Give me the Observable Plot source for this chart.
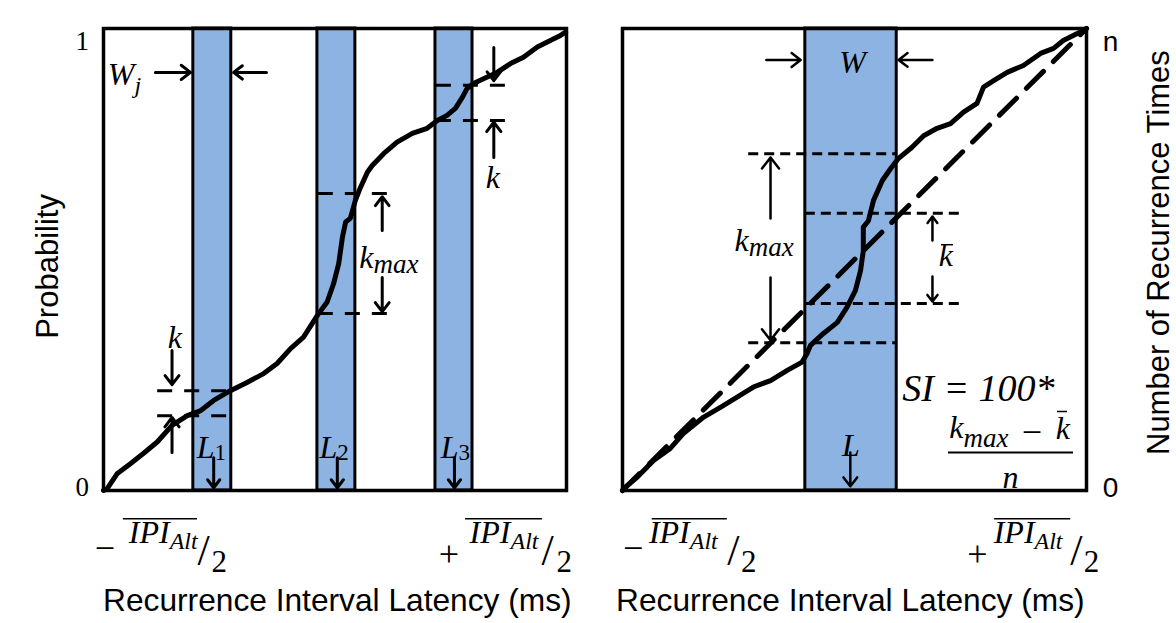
<!DOCTYPE html>
<html><head><meta charset="utf-8">
<script src="https://cdn.jsdelivr.net/npm/d3@7"></script>
<script src="https://cdn.jsdelivr.net/npm/@observablehq/plot@0.6"></script>
<style>
body{margin:0;background:#fff;}
#wrap{display:flex;width:1176px;height:623px;overflow:hidden;background:#fff;}
#wrap svg{display:block;}
</style></head><body><div id="wrap"></div>
<script>
// ---------- DATA ----------
// Latency in units of mean IPI_Alt (−1/2 … +1/2); left: cumulative probability, right: fraction of n
const leftLatency = [-0.5,-0.492,-0.470,-0.442,-0.414,-0.384,-0.352,-0.319,-0.290,-0.262,-0.226,-0.190,-0.154,-0.125,-0.096,-0.068,-0.038,-0.017,-0.003,0.008,0.016,0.023,0.033,0.044,0.055,0.070,0.080,0.105,0.134,0.167,0.199,0.221,0.242,0.260,0.275,0.285,0.299,0.329,0.350,0.379,0.407,0.437,0.465,0.487,0.498];
const leftProbability = [0,0.004,0.037,0.058,0.080,0.105,0.141,0.162,0.173,0.195,0.216,0.234,0.253,0.275,0.307,0.332,0.379,0.408,0.448,0.491,0.548,0.581,0.589,0.628,0.656,0.689,0.703,0.729,0.754,0.773,0.784,0.801,0.812,0.827,0.851,0.870,0.881,0.895,0.905,0.924,0.938,0.960,0.974,0.985,0.992];
const rightLatency = [-0.5,-0.494,-0.468,-0.433,-0.397,-0.369,-0.325,-0.289,-0.253,-0.218,-0.181,-0.145,-0.113,-0.102,-0.095,-0.067,-0.037,-0.016,0.002,0.013,0.019,0.019,0.030,0.041,0.060,0.078,0.095,0.124,0.149,0.178,0.207,0.235,0.264,0.278,0.300,0.329,0.364,0.401,0.429,0.450,0.480,0.5];
const rightCount = [0,0.007,0.029,0.065,0.091,0.123,0.159,0.180,0.202,0.224,0.238,0.260,0.278,0.297,0.314,0.340,0.364,0.397,0.433,0.476,0.519,0.570,0.584,0.628,0.671,0.697,0.719,0.743,0.768,0.784,0.794,0.819,0.838,0.873,0.887,0.905,0.920,0.946,0.957,0.974,0.989,1.0];
const uniformLatency = [-0.5, 0.5];
const uniformCount = [0, 1];

// Latency windows
const leftWindowStart = [-0.306, -0.038, 0.217];
const leftWindowEnd   = [-0.224,  0.044, 0.297];
const leftWindowIndex = ["1", "2", "3"];
const rightWindowStart = [-0.106];
const rightWindowEnd   = [0.091];

// Level lines (k marks)
const leftLevels  = [0.216, 0.162, 0.643, 0.383, 0.877, 0.801];
const leftLevelFrom = [-0.383,-0.383,-0.036,-0.036,0.219,0.219];
const leftLevelTo   = [-0.226,-0.226, 0.120, 0.120,0.379,0.379];
const rightLevels = [0.729, 0.320, 0.600, 0.405];
const rightLevelFrom = [-0.228,-0.228,-0.106,-0.106];
const rightLevelTo   = [ 0.091, 0.091, 0.228, 0.228];

// Tick labels and titles
const leftYTicks = [{v:0.972, label:"1"}, {v:0.006, label:"0"}];
const rightYTicks = [{v:0.970, label:"n"}, {v:0.006, label:"0"}];
const xTitle = "Recurrence Interval Latency (ms)";
const leftYTitle = "Probability";
const rightYTitle = "Number of Recurrence Times";

// Annotation arrows [x1,y1,x2,y2]
const leftArrows = [[-0.388,0.905,-0.312,0.905],[-0.148,0.905,-0.219,0.905],
  [-0.352,0.303,-0.352,0.229],[-0.352,0.082,-0.352,0.158],
  [-0.262,0.071,-0.262,0.006],[0.005,0.071,0.005,0.006],[0.258,0.071,0.258,0.006],
  [0.102,0.563,0.102,0.636],[0.102,0.461,0.102,0.387],
  [0.343,0.959,0.343,0.887],[0.343,0.721,0.343,0.797]];
const rightArrows = [[-0.190,0.932,-0.116,0.932],[0.168,0.932,0.095,0.932],
  [-0.181,0.589,-0.181,0.721],[-0.181,0.461,-0.181,0.325],
  [0.168,0.541,0.168,0.593],[0.168,0.463,0.168,0.409],
  [-0.009,0.082,-0.009,0.009]];

// Annotation texts [text, x, y]
const leftBase = [["W",-0.433,0.900],["k",0.083,0.504],["L",-0.260,0.093],["L",0.005,0.093],["L",0.267,0.093],
  ["IPI",-0.357,-0.091],["IPI",0.379,-0.091]];
const leftItalic = [["k",-0.346,0.330],["k",0.341,0.677]];
const leftSub = [["j",-0.433,0.877],["Alt",-0.357,-0.110],["Alt",0.379,-0.110]];
const leftSubWide = [["max",0.083,0.489]];
const leftUprightSub = leftWindowIndex.map((t,i)=>[t,[-0.260,0.005,0.267][i],0.082]);
const leftSign = [["−",-0.497,-0.126],["+",0.246,-0.139]];
const leftSlash = [["/",-0.284,-0.130],["/",0.459,-0.130]];
const leftTwo = [["2",-0.250,-0.156],["2",0.495,-0.156]];
const leftBars = [[-0.457,-0.297,-0.061],[0.282,0.448,-0.061]];

const rightBase = [["k",-0.228,0.541],["k",0.235,0.136],["IPI",-0.355,-0.091],["IPI",0.388,-0.091]];
const rightItalic = [["W",-0.004,0.926],["k",0.197,0.509],["k",0.449,0.134],["n",0.336,0.028],["L",-0.008,0.097]];
const rightFormula = [["SI = 100*",0.267,0.221]];
const rightSub = [["Alt",-0.355,-0.110],["Alt",0.388,-0.110]];
const rightSubWide = [["max",-0.228,0.526],["max",0.235,0.113]];
const rightSign = [["−",-0.477,-0.126],["+",0.265,-0.139],["−",0.3825,0.126]];
const rightSlash = [["/",-0.261,-0.130],["/",0.478,-0.130]];
const rightTwo = [["2",-0.228,-0.156],["2",0.511,-0.156]];
const rightBars = [[-0.436,-0.274,-0.061],[0.302,0.466,-0.061],[0.1875,0.2134,0.532],[0.4375,0.459,0.171]];
const rightFractionBar = [[0.2026,0.472,0.082]];

// ---------- DRAWING ----------
const SERIF = "Liberation Serif";
const SANS = "Liberation Sans";
const BLUE = "#8db3e2";
const tx = (arr, opts) => Plot.text(arr, {x: d=>d[1], y: d=>d[2], text: d=>d[0], fill:"black", fontFamily:SERIF, ...opts});
const bars = (arr, w) => Plot.ruleY(arr, {x1:d=>d[0], x2:d=>d[1], y:d=>d[2], stroke:"black", strokeWidth:w});
const arrows = (arr, w, hl) => Plot.arrow(arr, {x1:d=>d[0], y1:d=>d[1], x2:d=>d[2], y2:d=>d[3], stroke:"black", strokeWidth:w, headLength:hl, headAngle:75});

function panel(width, marginLeft, marginRight, marks) {
  return Plot.plot({
    width, height: 623, marginLeft, marginRight, marginTop: 28, marginBottom: 133,
    x: {domain: [-0.5, 0.5], axis: null},
    y: {domain: [0, 1], axis: null},
    style: {background: "white", overflow: "visible"},
    marks
  });
}

const leftWin = leftWindowStart.map((s,i)=>({x1:s, x2:leftWindowEnd[i]}));
const rightWin = rightWindowStart.map((s,i)=>({x1:s, x2:rightWindowEnd[i]}));
const leftCurve = leftLatency.map((x,i)=>({x, y:leftProbability[i]}));
const rightCurve = rightLatency.map((x,i)=>({x, y:rightCount[i]}));
const uniform = uniformLatency.map((x,i)=>({x, y:uniformCount[i]}));
const lvl = (lv, a, b) => lv.map((y,i)=>({y, x1:a[i], x2:b[i]}));

const left = panel(590, 103, 24, [
  Plot.rect(leftWin, {x1:"x1", x2:"x2", y1:()=>0, y2:()=>1, fill:BLUE, stroke:"black", strokeWidth:3}),
  Plot.ruleY(lvl(leftLevels, leftLevelFrom, leftLevelTo), {y:"y", x1:"x1", x2:"x2", stroke:"black", strokeWidth:3, strokeDasharray:"15,12"}),
  Plot.line(leftCurve, {x:"x", y:"y", stroke:"black", strokeWidth:5, strokeLinejoin:"round", strokeLinecap:"round"}),
  Plot.frame({stroke:"black", strokeWidth:3.5}),
  arrows(leftArrows, 3, 7),
  tx(leftBase, {fontStyle:"italic", fontSize:32, textAnchor:"end"}),
  tx(leftItalic, {fontStyle:"italic", fontSize:32}),
  tx(leftSub, {fontStyle:"italic", fontSize:24, textAnchor:"start"}),
  tx(leftSubWide, {fontStyle:"italic", fontSize:27, textAnchor:"start"}),
  tx(leftUprightSub, {fontSize:23, textAnchor:"start"}),
  tx(leftSign, {fontSize:36}),
  tx(leftSlash, {fontSize:44}),
  tx(leftTwo, {fontSize:31}),
  bars(leftBars, 1.5),
  Plot.text(leftYTicks, {x:()=>-0.546, y:"v", text:"label", fontFamily:SERIF, fontSize:27, fill:"black"}),
  Plot.text([leftYTitle], {x:()=>-0.599, y:()=>0.485, text:d=>d, rotate:-90, lineAnchor:"bottom", fontFamily:SANS, fontSize:31, fill:"black"}),
  Plot.text([xTitle], {x:()=>0.005, y:()=>-0.238, text:d=>d, fontFamily:SANS, fontSize:31.7, fill:"black"})
]);

const right = panel(586, 32, 90, [
  Plot.rect(rightWin, {x1:"x1", x2:"x2", y1:()=>0, y2:()=>1, fill:BLUE, stroke:"black", strokeWidth:3}),
  Plot.ruleY(lvl(rightLevels, rightLevelFrom, rightLevelTo), {y:"y", x1:"x1", x2:"x2", stroke:"black", strokeWidth:3, strokeDasharray:"10,6"}),
  Plot.line(uniform, {x:"x", y:"y", stroke:"black", strokeWidth:5, strokeDasharray:"24,14"}),
  Plot.line(rightCurve, {x:"x", y:"y", stroke:"black", strokeWidth:5, strokeLinejoin:"round", strokeLinecap:"round"}),
  Plot.frame({stroke:"black", strokeWidth:3.5}),
  arrows(rightArrows, 2.5, 8.4),
  tx(rightBase, {fontStyle:"italic", fontSize:32, textAnchor:"end"}),
  tx(rightItalic, {fontStyle:"italic", fontSize:32}),
  tx(rightFormula, {fontStyle:"italic", fontSize:38}),
  tx(rightSub, {fontStyle:"italic", fontSize:24, textAnchor:"start"}),
  tx(rightSubWide, {fontStyle:"italic", fontSize:27, textAnchor:"start"}),
  tx(rightSign, {fontSize:36}),
  tx(rightSlash, {fontSize:44}),
  tx(rightTwo, {fontSize:31}),
  bars(rightBars, 1.5),
  bars(rightFractionBar, 2),
  Plot.text(rightYTicks, {x:()=>0.552, y:"v", text:"label", fontFamily:SANS, fontSize:28, fill:"black"}),
  Plot.text([rightYTitle], {x:()=>0.677, y:()=>0.515, text:d=>d, rotate:-90, lineAnchor:"bottom", fontFamily:SANS, fontSize:31, fill:"black"}),
  Plot.text([xTitle], {x:()=>-0.009, y:()=>-0.238, text:d=>d, fontFamily:SANS, fontSize:31.7, fill:"black"})
]);

document.getElementById("wrap").append(left, right);
</script></body></html>
